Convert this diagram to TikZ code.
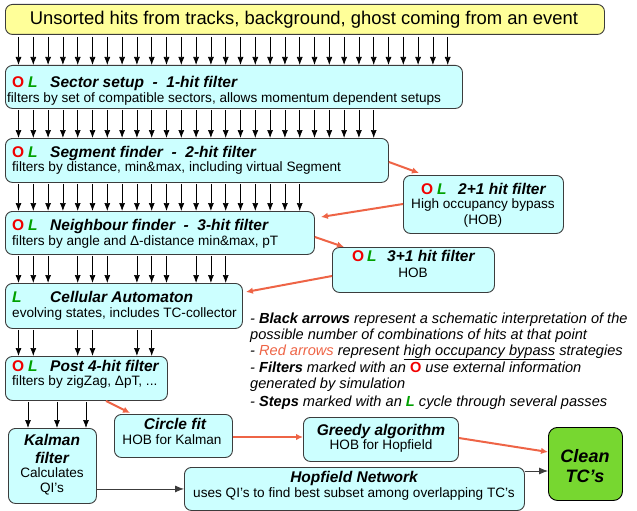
\documentclass[tikz,border=0pt]{standalone}
\usepackage{fontspec}
\setmainfont{Liberation Sans}
\usetikzlibrary{arrows.meta,calc}
\definecolor{boxcyan}{HTML}{CCFFFF}
\definecolor{topyellow}{HTML}{FFFF99}
\definecolor{cleangreen}{RGB}{119,215,48}
\definecolor{redarrow}{RGB}{238,100,70}
\definecolor{omarkred}{RGB}{240,0,0}
\definecolor{lmarkgreen}{RGB}{0,160,0}
\definecolor{edgegrey}{RGB}{60,60,60}
\newcommand\myfs[2]{\fontsize{#1}{#2}\selectfont}
\newcommand\Omk{\textcolor{omarkred}{\bfseries O}}
\newcommand\Lmk{\textcolor{lmarkgreen}{\bfseries\itshape L}}
\begin{document}
\begin{tikzpicture}[x=1pt,y=-1pt,
  box/.style={draw=edgegrey, line width=0.9pt, rounded corners=7pt, fill=boxcyan, inner sep=0pt, anchor=north west},
  ttl/.style={font=\myfs{15.5}{18}\bfseries\itshape, anchor=base west, inner sep=0pt},
  ctl/.style={font=\myfs{15.5}{18}\bfseries\itshape, anchor=base, inner sep=0pt},
  sub/.style={font=\myfs{13.6}{16}, anchor=base west, inner sep=0pt},
  csub/.style={font=\myfs{13.6}{16}, anchor=base, inner sep=0pt},
  mk/.style={font=\myfs{15.5}{18}, anchor=base west, inner sep=0pt},
  leg/.style={font=\myfs{14.6}{17}\itshape, anchor=base west, inner sep=0pt},
  blk/.style={-{Latex[length=8pt,width=6pt]}, line width=0.7pt, black},
  redarr/.style={-{Latex[length=7pt,width=6.5pt]}, line width=2pt, draw=redarrow},
]
\useasboundingbox (0,0) rectangle (637,511);

% boxes
\node[box, fill=topyellow, minimum width=599pt, minimum height=30pt] (top) at (5,4) {};
\node[box, minimum width=457pt, minimum height=43pt] (sector) at (5,65) {};
\node[box, minimum width=383pt, minimum height=44pt] (seg) at (5,138) {};
\node[box, minimum width=309pt, minimum height=43pt] (neigh) at (5,211) {};
\node[box, minimum width=160pt, minimum height=58pt] (hobA) at (403,175) {};
\node[box, minimum width=162pt, minimum height=45pt] (hobB) at (332,247) {};
\node[box, minimum width=237pt, minimum height=45pt] (ca) at (5,283) {};
\node[box, minimum width=162pt, minimum height=44pt] (post) at (5,356) {};
\node[box, minimum width=88pt, minimum height=75pt] (kalman) at (8,428) {};
\node[box, minimum width=118pt, minimum height=43pt] (circle) at (114,414) {};
\node[box, minimum width=155pt, minimum height=44pt] (greedy) at (303,417) {};
\node[box, minimum width=340pt, minimum height=43pt] (hopf) at (184,467) {};
\node[box, fill=cleangreen, draw=black, rounded corners=9pt, minimum width=74pt, minimum height=73pt] (clean) at (548,427) {};

% texts
\node[font=\myfs{18.4}{20}, inner sep=0pt] (topT) at ([xshift=-1pt]top.center) {Unsorted hits from tracks, background, ghost coming from an event};

\node[mk] (sectorO) at (12,87) {\Omk};
\node[mk] (sectorL) at (28,87) {\Lmk};
\node[ttl] (sectorT) at (50,87) {Sector setup\ \ -\ \ 1-hit filter};
\node[sub] (sectorS) at (7,102) {filters by set of compatible sectors, allows momentum dependent setups};

\node[mk] (segO) at (12,157) {\Omk};
\node[mk] (segL) at (28,157) {\Lmk};
\node[ttl] (segT) at (50,157) {Segment finder\ \ -\ \ 2-hit filter};
\node[sub] (segS) at (12,171) {filters by distance, min\&max, including virtual Segment};

\node[mk] (neighO) at (12,230) {\Omk};
\node[mk] (neighL) at (28,230) {\Lmk};
\node[ttl] (neighT) at (50,230) {Neighbour finder\ \ -\ \ 3-hit filter};
\node[sub] (neighS) at (12,245) {filters by angle and Δ-distance min\&max, pT};

\node[mk] (hobAO) at (421,194) {\Omk};
\node[mk] (hobAL) at (437,194) {\Lmk};
\node[ttl] (hobAT) at (458,194) {2+1 hit filter};
\node[csub] (hobAS) at (483,208) {High occupancy bypass};
\node[csub] (hobAS2) at (483,224) {(HOB)};

\node[mk] (hobBO) at (352,261) {\Omk};
\node[mk] (hobBL) at (367,261) {\Lmk};
\node[ttl] (hobBT) at (387,261) {3+1 hit filter};
\node[csub] (hobBS) at (413,277) {HOB};

\node[mk] (caL) at (12,302) {\Lmk};
\node[ttl] (caT) at (50,302) {Cellular Automaton};
\node[sub] (caS) at (12,317) {evolving states, includes TC-collector};

\node[mk] (postO) at (12,371) {\Omk};
\node[mk] (postL) at (28,371) {\Lmk};
\node[ttl] (postT) at (50,371) {Post 4-hit filter};
\node[sub] (postS) at (12,385) {filters by zigZag, ΔpT, ...};

\node[ctl] (kalT1) at (52,445) {Kalman};
\node[ctl] (kalT2) at (52,463) {filter};
\node[csub] (kalS1) at (52,477) {Calculates};
\node[csub] (kalS2) at (52,492) {QI's};

\node[ctl] (circT) at (175,429) {Circle fit};
\node[csub] (circS) at (172,444) {HOB for Kalman};

\node[ctl] (greT) at (381,435) {Greedy algorithm};
\node[csub] (greS) at (381,449) {HOB for Hopfield};

\node[ctl] (hopT) at (354,482) {Hopfield Network};
\node[csub] (hopS) at (354,497) {uses QI's to find best subset among overlapping TC's};

\node[font=\myfs{18}{20}\bfseries\itshape, inner sep=0pt, anchor=base] (cleanT1) at (585,462) {Clean};
\node[font=\myfs{18}{20}\bfseries\itshape, inner sep=0pt, anchor=base] (cleanT2) at (585,482) {TC's};

% legend
\node[leg] (leg1) at (250,323) {- {\bfseries Black arrows} represent a schematic interpretation of the};
\node[leg] (leg2) at (250,339) {possible number of combinations of hits at that point};
\node[leg] (leg3) at (250,355) {- \textcolor{redarrow}{Red arrows} represent \underline{high occupancy bypass} strategies};
\node[leg] (leg4) at (250,372) {- {\bfseries Filters} marked with an \textcolor{omarkred}{\bfseries\upshape O} use external information};
\node[leg] (leg5) at (250,388) {generated by simulation};
\node[leg] (leg6) at (250,406) {- {\bfseries Steps} marked with an \textcolor{lmarkgreen}{\bfseries L} cycle through several passes};

% black arrow rows
\foreach \i in {0,...,29}{
  \pgfmathsetmacro\xx{18.5+14.8*\i}
  \draw[blk, shorten <=2pt] (\xx,0 |- top.south) -- (\xx,0 |- sector.north);
}
\foreach \i in {0,...,24}{
  \pgfmathsetmacro\xx{18.5+14.8*\i}
  \draw[blk, shorten <=1pt] (\xx,0 |- sector.south) -- (\xx,0 |- seg.north);
}
\foreach \i in {0,...,19}{
  \pgfmathsetmacro\xx{18.5+14.8*\i}
  \draw[blk, shorten <=1pt] (\xx,0 |- seg.south) -- (\xx,0 |- neigh.north);
}
\foreach \i in {0,1,2,4,5,6,8,9,10,12,13,14}{
  \pgfmathsetmacro\xx{18.5+14.8*\i}
  \draw[blk, shorten <=1pt] (\xx,0 |- neigh.south) -- (\xx,0 |- ca.north);
}
\foreach \i in {0,1,4,5,8,9}{
  \pgfmathsetmacro\xx{18.5+14.8*\i}
  \draw[blk, shorten <=1pt] (\xx,0 |- ca.south) -- (\xx,0 |- post.north);
}
\foreach \xx in {28,57,86}{
  \draw[blk, shorten <=1pt] (\xx,0 |- post.south) -- (\xx,0 |- kalman.north);
}

% red bypass arrows
\draw[redarr] ($(seg.north east)+(0,24)$) -- ($(hobA.north west)+(16,-2)$);
\draw[redarr] ($(hobA.north west)+(0,29)$) -- ($(neigh.north east)+(6,6)$);
\draw[redarr] ($(neigh.north east)+(0,26)$) -- ($(hobB.north west)+(12,0)$);
\draw[redarr] ($(hobB.north west)+(0,29)$) -- ($(ca.north east)+(3,9)$);
\draw[redarr] ($(post.south west)+(101,0)$) -- ($(circle.north west)+(16,-1)$);
\draw[redarr] ($(circle.north east)+(0,23)$) -- ($(greedy.north west)+(0,20)$);
\draw[redarr] ($(greedy.north east)+(0,21)$) -- ($(clean.north west)+(0,25)$);

% black connectors at the bottom
\draw[blk, line width=0.8pt, draw=edgegrey, -{Latex[length=9pt,width=7pt]}] (hopf.west -| kalman.east) -- (hopf.west);
\coordinate (hopfOut) at ($(hopf.north east)+(0,4)$);
\draw[blk, line width=0.8pt, draw=edgegrey, -{Latex[length=9pt,width=7pt]}] (hopfOut) -- (hopfOut -| clean.west);
\end{tikzpicture}
\end{document}
